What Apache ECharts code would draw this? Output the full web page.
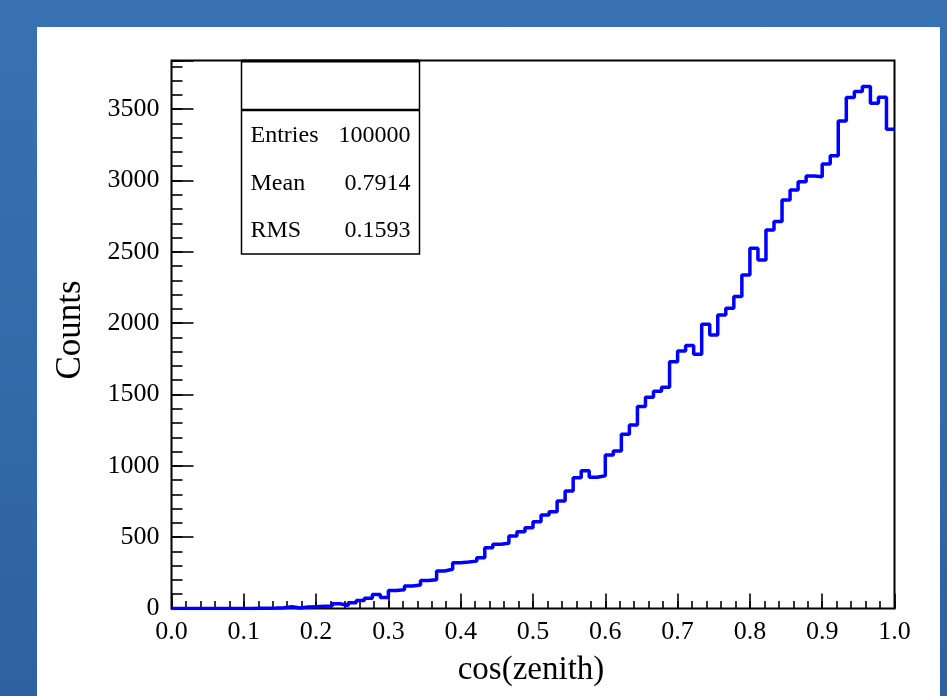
<!DOCTYPE html>
<html>
<head>
<meta charset="utf-8">
<script src="https://cdn.jsdelivr.net/npm/echarts@6/dist/echarts.min.js"></script>
<style>
  html, body { margin: 0; padding: 0; width: 947px; height: 696px; overflow: hidden;
    background: linear-gradient(180deg, #3872b2 0%, #3169a9 60%, #2e61a1 100%); }
  #panel { position: absolute; left: 37px; top: 27px; width: 903px; height: 669px; background: #ffffff; }
  #chart { position: absolute; left: 0; top: 0; width: 947px; height: 696px; }
</style>
</head>
<body>
<div id="panel"></div>
<div id="chart"></div>
<script>
// Histogram binning: 90 equal bins over [0, 1]
const xMin = 0;
const xMax = 1;
const nBins = 90;

// Bin contents (counts per bin, left to right)
const counts = [
  0, 0, 0, 0, 0, 0, 0, 0, 0, 0,
  1, 2, 3, 5, 12, 3, 11, 13, 15, 17,
  33, 21, 40, 56, 72, 98, 77, 126, 132, 158,
  164, 196, 202, 263, 275, 321, 326, 332, 356, 426,
  450, 457, 508, 538, 566, 608, 655, 679, 754, 824,
  917, 966, 920, 931, 1076, 1104, 1221, 1286, 1415, 1480,
  1522, 1550, 1730, 1805, 1843, 1782, 1992, 1917, 2057, 2104,
  2186, 2338, 2525, 2443, 2653, 2712, 2864, 2934, 2992, 3032,
  3027, 3116, 3174, 3417, 3581, 3623, 3658, 3541, 3583, 3359
];

// Axis ranges and tick steps
const yMax = 3841;
const yMajorStep = 500;
const yMinorStep = 100;
const xMajorStep = 0.1;
const xMinorStep = 0.02;

// Titles and statistics box contents
const xTitle = 'cos(zenith)';
const yTitle = 'Counts';
const statsRows = [
  ['Entries', '100000'],
  ['Mean', '0.7914'],
  ['RMS', '0.1593']
];

const serif = '"Liberation Serif", "Times New Roman", serif';

// Step line through bin edges: each bin holds its count across its width
const binWidth = (xMax - xMin) / nBins;
const stepData = counts.map((c, i) => [xMin + i * binWidth, c]);
stepData.push([xMax, counts[nBins - 1]]);

const gridBox = { left: 171.5, top: 60.5, width: 723, height: 548 };

function valueAxisX(step, tickLen, showLabels) {
  return {
    type: 'value', min: xMin, max: xMax, interval: step, position: 'bottom',
    axisLine: { show: false },
    axisTick: { show: true, inside: true, length: tickLen, lineStyle: { color: '#000', width: 1.6 } },
    axisLabel: {
      show: showLabels, margin: 11, color: '#000', fontFamily: serif, fontSize: 26,
      formatter: v => v.toFixed(1)
    },
    splitLine: { show: false }
  };
}

function valueAxisY(step, tickLen, showLabels) {
  return {
    type: 'value', min: 0, max: yMax, interval: step, position: 'left', offset: 0,
    axisLine: { show: false },
    axisTick: { show: true, inside: true, length: tickLen, lineStyle: { color: '#000', width: 1.6 } },
    axisLabel: {
      show: showLabels, margin: 12, color: '#000', fontFamily: serif, fontSize: 26,
      formatter: v => (Math.abs(v % yMajorStep) < 1e-6 ? String(v) : '')
    },
    splitLine: { show: false }
  };
}

// Statistics box graphics
const boxX = 241.5, boxY = 61, boxW = 178, boxH = 193;
const sepY = 110;
const rowY0 = 136, rowStep = 47.5;
const statsGraphics = [
  { type: 'rect', z: 10, shape: { x: boxX, y: boxY, width: boxW, height: boxH },
    style: { fill: '#fff', stroke: '#000', lineWidth: 1.5 } },
  { type: 'line', z: 11, shape: { x1: boxX, y1: sepY, x2: boxX + boxW, y2: sepY },
    style: { stroke: '#000', lineWidth: 2.5 } },
  { type: 'line', z: 11, shape: { x1: boxX, y1: boxY, x2: boxX + boxW, y2: boxY },
    style: { stroke: '#000', lineWidth: 3 } }
];
statsRows.forEach((row, i) => {
  const y = rowY0 + i * rowStep;
  statsGraphics.push({ type: 'text', z: 12, x: boxX + 9, y: y,
    style: { text: row[0], font: '24px ' + serif, fill: '#000', textAlign: 'left', textVerticalAlign: 'middle' } });
  statsGraphics.push({ type: 'text', z: 12, x: boxX + boxW - 9, y: y,
    style: { text: row[1], font: '24px ' + serif, fill: '#000', textAlign: 'right', textVerticalAlign: 'middle' } });
});

const chart = echarts.init(document.getElementById('chart'), null, { renderer: 'canvas' });
chart.setOption({
  animation: false,
  backgroundColor: 'transparent',
  grid: Object.assign({ show: true, borderColor: '#000', borderWidth: 2, backgroundColor: 'transparent', containLabel: false }, gridBox),
  xAxis: [valueAxisX(xMajorStep, 15, true), valueAxisX(xMinorStep, 7.5, false)],
  yAxis: [valueAxisY(yMajorStep, 22, true), valueAxisY(yMinorStep, 11, false)],
  series: [{
    type: 'line', step: 'end', data: stepData, xAxisIndex: 0, yAxisIndex: 0,
    symbol: 'none', lineStyle: { color: '#0000ff', width: 3.5 }, z: 5
  }],
  graphic: [
    { type: 'text', x: 71, y: 330, rotation: Math.PI / 2,
      style: { text: yTitle, font: '35px ' + serif, fill: '#000', textAlign: 'center', textVerticalAlign: 'middle' } },
    { type: 'text', x: 531, y: 670,
      style: { text: xTitle, font: '33px ' + serif, fill: '#000', textAlign: 'center', textVerticalAlign: 'middle' } }
  ].concat(statsGraphics)
});
</script>
</body>
</html>
